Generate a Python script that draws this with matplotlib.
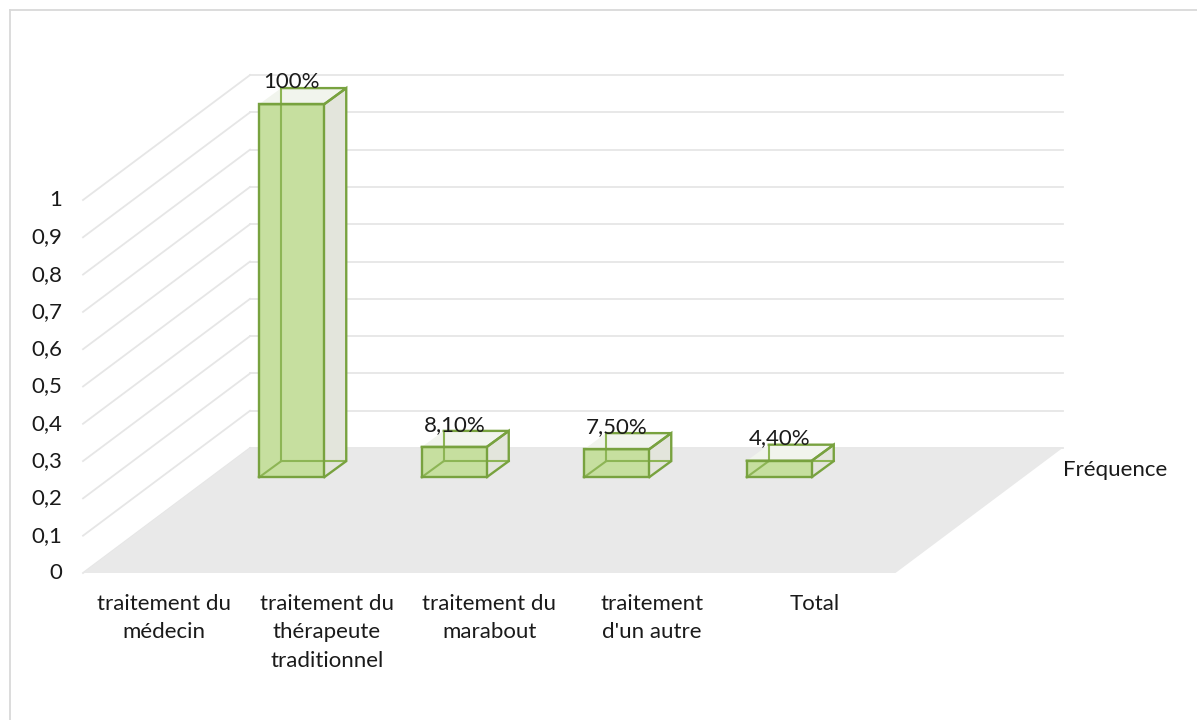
import matplotlib.pyplot as plt
from matplotlib.patches import Polygon

plt.rcParams['font.family'] = ['Lato', 'DejaVu Sans']

categories = ["traitement du\nmédecin", "traitement du\nthérapeute\ntraditionnel",
              "traitement du\nmarabout", "traitement\nd'un autre", "Total"]
values = [None, 1.0, 0.081, 0.075, 0.044]
value_labels = ["", "100%", "8,10%", "7,50%", "4,40%"]
y_ticks = [0, 0.1, 0.2, 0.3, 0.4, 0.5, 0.6, 0.7, 0.8, 0.9, 1]
y_tick_labels = ["0", "0,1", "0,2", "0,3", "0,4", "0,5", "0,6", "0,7", "0,8", "0,9", "1"]
series_name = "Fréquence"

# oblique projection (x in categories, y in value units)
FLOOR_DX, FLOOR_DY = 1.028, 0.335
BAR_SHIFT_X, BAR_BASE_Y = -0.215, 0.257
BAR_DX, BAR_DY = 0.135, 0.043
BAR_WIDTH = 0.4

EDGE = '#78a23f'
FRONT = '#c6df9f'
SIDE = '#e3e5dc'
TOP = '#f1f4ed'
GRID = '#e6e6e6'
FLOOR = '#e9e9e9'
TEXT = '#1a1a1a'
FS = 16

fig = plt.figure(figsize=(11.97, 7.2), dpi=100)
ax = fig.add_axes([0, 0, 1, 1])
ax.set_xlim(-83 / 162.5, (1197 - 83) / 162.5)
ax.set_ylim((573 - 720) / 373, 573 / 373)
ax.axis('off')

n = len(categories)

# side wall and back wall gridlines
for t in y_ticks:
    ax.plot([0, FLOOR_DX], [t, t + FLOOR_DY], color=GRID, lw=1.3, zorder=1)
    ax.plot([FLOOR_DX, n + FLOOR_DX], [t + FLOOR_DY] * 2, color=GRID, lw=1.3, zorder=1)

# floor
ax.add_patch(Polygon([(0, 0), (n, 0), (n + FLOOR_DX, FLOOR_DY), (FLOOR_DX, FLOOR_DY)],
                     closed=True, facecolor=FLOOR, edgecolor='none', zorder=2))

for t, lab in zip(y_ticks, y_tick_labels):
    ax.text(-0.13, t, lab, ha='right', va='center', fontsize=FS, color=TEXT)

for i, cat in enumerate(categories):
    ax.text(i + 0.5, -0.055, cat, ha='center', va='top', fontsize=FS,
            color=TEXT, linespacing=1.55)

for i, v in enumerate(values):
    if v is None:
        continue
    x0 = i + 0.5 - BAR_WIDTH / 2 + BAR_SHIFT_X
    x1 = x0 + BAR_WIDTH
    y0 = BAR_BASE_Y
    y1 = y0 + v
    dx, dy = BAR_DX, BAR_DY
    front = [(x0, y0), (x1, y0), (x1, y1), (x0, y1)]
    side = [(x1, y0), (x1 + dx, y0 + dy), (x1 + dx, y1 + dy), (x1, y1)]
    top = [(x0, y1), (x1, y1), (x1 + dx, y1 + dy), (x0 + dx, y1 + dy)]
    ax.add_patch(Polygon(side, closed=True, facecolor=SIDE, edgecolor='none', zorder=3))
    ax.add_patch(Polygon(top, closed=True, facecolor=TOP, edgecolor='none', zorder=3))
    ax.add_patch(Polygon(front, closed=True, facecolor=FRONT, edgecolor='none', zorder=3))
    # hidden edges seen through the faces
    hidden = [[(x0 + dx, y0 + dy), (x0 + dx, y1 + dy)],
              [(x0 + dx, y0 + dy), (x1 + dx, y0 + dy)],
              [(x0, y0), (x0 + dx, y0 + dy)]]
    for seg in hidden:
        xs, ys = zip(*seg)
        ax.plot(xs, ys, color='#8db555', lw=1.5, zorder=4)
    visible = [front + [front[0]], side, top]
    for poly in visible:
        xs, ys = zip(*poly)
        ax.plot(xs, ys, color=EDGE, lw=1.7, zorder=5, solid_joinstyle='miter')
    ax.text(x0 + BAR_WIDTH / 2, y1 + dy - 0.01, value_labels[i], ha='center',
            va='bottom', fontsize=FS, color=TEXT, zorder=6)

ax.text(n + FLOOR_DX, FLOOR_DY - 0.06, series_name, ha='left', va='center',
        fontsize=FS, color=TEXT)

# chart frame
fig.add_artist(plt.Line2D([10 / 1197, 10 / 1197], [0, 1 - 10 / 720],
                          transform=fig.transFigure, color='#d9d9d9', lw=1.3))
fig.add_artist(plt.Line2D([10 / 1197, 1], [1 - 10 / 720, 1 - 10 / 720],
                          transform=fig.transFigure, color='#d9d9d9', lw=1.3))

fig.savefig('out.png', dpi=100)
